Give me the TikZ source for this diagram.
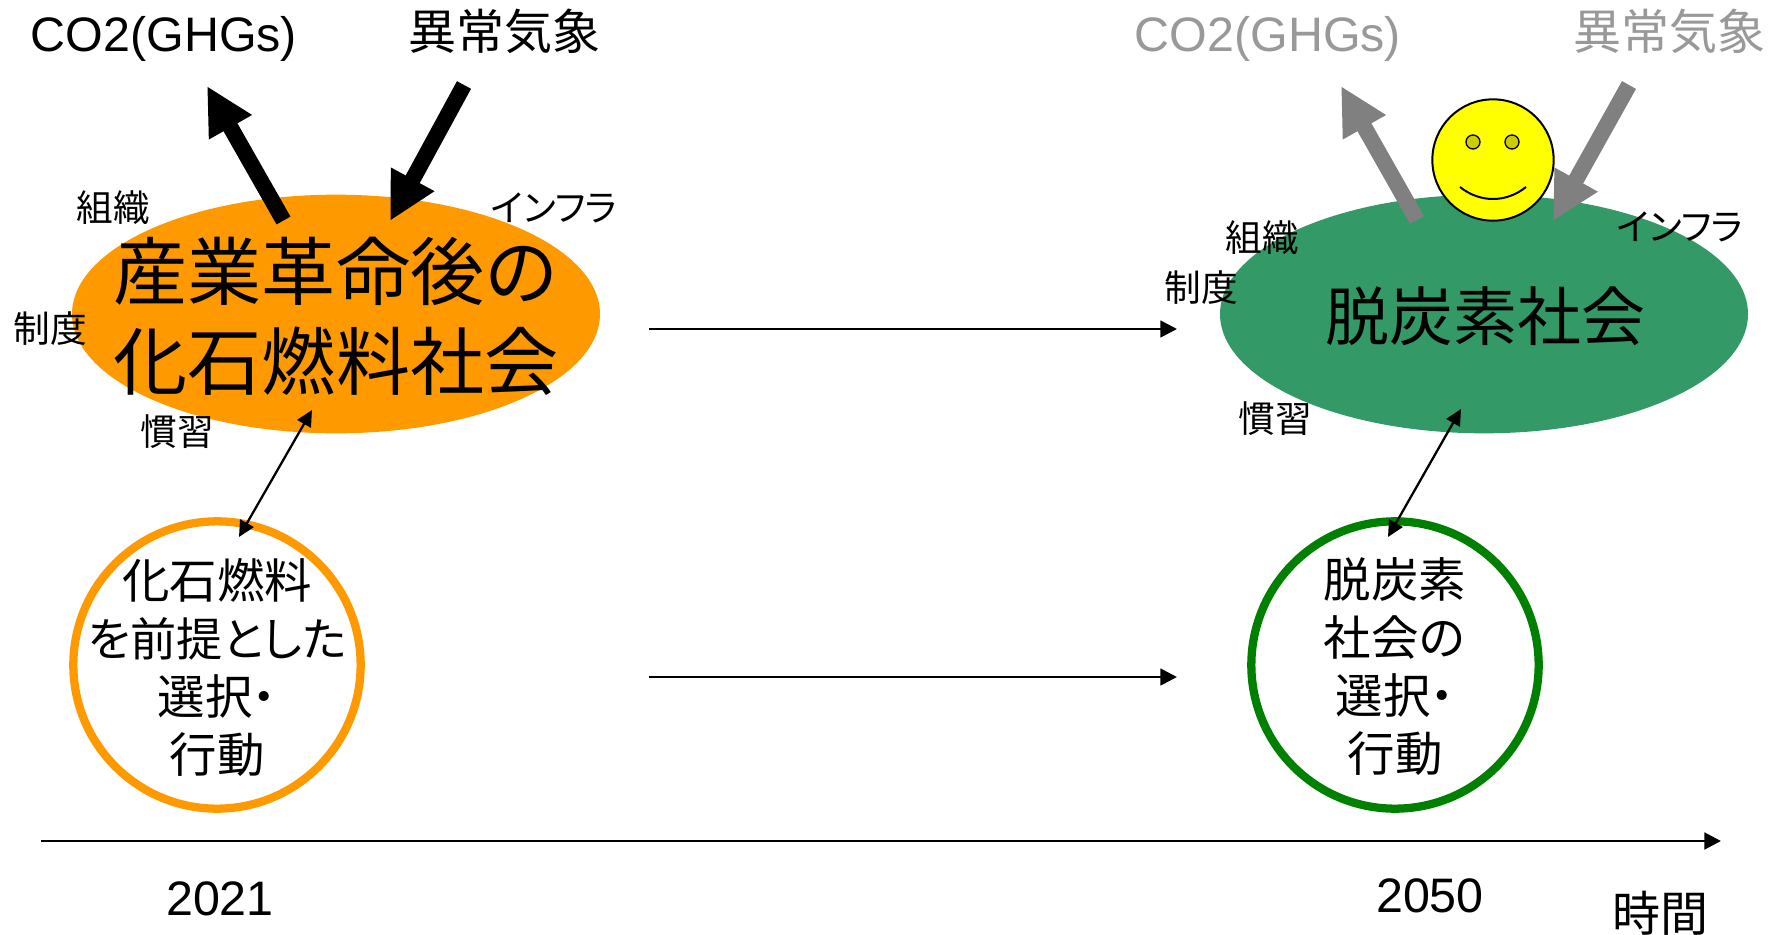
\documentclass[tikz,border=0pt]{standalone}
\usepackage{fontspec}
\setmainfont{Liberation Sans}
\newfontfamily\jp{Noto Sans CJK JP}
\newfontfamily\jpp[RawFeature=+palt]{Noto Sans CJK JP}
\usetikzlibrary{shapes.geometric,arrows.meta}
\definecolor{forange}{HTML}{FF9900}
\definecolor{fgreen}{HTML}{339966}
\definecolor{cgreen}{HTML}{008000}
\definecolor{ggray}{HTML}{808080}
\definecolor{tgray}{HTML}{999999}
\definecolor{eyey}{HTML}{CCCC00}
\definecolor{fyellow}{HTML}{FFFF00}
\tikzset{
  x=0.75pt,y=-0.75pt,
  society/.style={ellipse,inner sep=0pt,minimum width=396pt,minimum height=179pt},
  choice/.style={circle,inner sep=0pt,minimum size=215.5pt,line width=6.2pt,fill=white},
  choicetext/.style={inner sep=0pt,align=center,font=\jp\fontsize{35.6}{43.5}\selectfont},
  small/.style={inner sep=0pt,font=\jp\fontsize{27.5}{27.5}\selectfont,anchor=base,yshift=-10.4pt},
  smallp/.style={inner sep=0pt,font=\jpp\fontsize{27.5}{27.5}\selectfont,anchor=base,yshift=-10.4pt},
  big/.style={inner sep=0pt,font=\jp\fontsize{36}{36}\selectfont,anchor=base,yshift=-13.5pt},
  latin/.style={inner sep=0pt,font=\fontsize{36.3}{36.3}\selectfont,anchor=base},
  block/.style={line width=12pt,-{Triangle[length=35.6pt,width=34.5pt]}},
  thin arrow/.style={line width=2pt,-{Triangle[length=12.5pt,width=12.5pt]}},
  both arrow/.style={line width=1.7pt,{Triangle[length=12pt,width=11.5pt]}-{Triangle[length=12pt,width=11.5pt]}},
}
\begin{document}
\begin{tikzpicture}
\useasboundingbox (0,0) rectangle (1779,935);
% societies
\node[society,fill=forange] (fossil) at (336,314) {};
\node[society,fill=fgreen] (decarb) at (1484,314) {};
\node[inner sep=0pt,align=center,font=\jp\fontsize{55.6}{67.5}\selectfont] (fossiltext) at (336,316) {産業革命後の\\化石燃料社会};
\node[inner sep=0pt,font=\jp\fontsize{48}{48}\selectfont] (decarbtext) at (1485,316) {脱炭素社会};
% choices
\node[choice,draw=forange] (fchoice) at (217,665) {};
\node[choice,draw=cgreen] (dchoice) at (1395,665) {};
\node[choicetext] (fchoicetext) at (217,667) {化石燃料\\{\jpp\fontsize{34.6}{43.5}\selectfont を前提とした}\\選択{\jpp ・}\\行動};
\node[choicetext] (dchoicetext) at (1395,667) {脱炭素\\社会の\\選択{\jpp ・}\\行動};
% labels around societies
\node[small] (l1) at (113,208) {組織};
\node[smallp] (l2) at (554,208) {インフラ};
\node[small] (l3) at (50,329) {制度};
\node[small] (l4) at (177,432) {慣習};
\node[small] (r1) at (1262,238) {組織};
\node[smallp] (r2) at (1680,227) {インフラ};
\node[small] (r3) at (1201,288) {制度};
\node[small] (r4) at (1275,419) {慣習};
% top labels
\node[latin] (co2a) at (164,51) {CO2(GHGs)};
\node[big] (weathera) at (504,31) {異常気象};
\node[latin,text=tgray] (co2b) at (1268,51) {CO2(GHGs)};
\node[big,text=tgray] (weatherb) at (1669,31) {異常気象};
% smiley
\node[circle,draw=black,line width=1.5pt,fill=fyellow,inner sep=0pt,minimum size=91pt] (face) at (1493,160) {};
\node[circle,draw=black,line width=1pt,fill=eyey,inner sep=0pt,minimum size=10.5pt] (eye1) at (1473,142) {};
\node[circle,draw=black,line width=1pt,fill=eyey,inner sep=0pt,minimum size=10.5pt] (eye2) at (1512,142) {};
\coordinate (m1) at (1460,187);
\coordinate (m2) at (1526,187);
\draw[line width=1.5pt] (m1) .. controls (1480,203) and (1506,203) .. (m2);
% block arrows
\coordinate (a1s) at (283.5,220.5); \coordinate (a1e) at (207,86);
\coordinate (a2s) at (464,85);     \coordinate (a2e) at (390,221);
\coordinate (a3s) at (1417,220);   \coordinate (a3e) at (1341,86);
\coordinate (a4s) at (1629,85);    \coordinate (a4e) at (1553,221);
\draw[block,black] (a1s) -- (a1e);
\draw[block,black] (a2s) -- (a2e);
\draw[block,ggray] (a3s) -- (a3e);
\draw[block,ggray] (a4s) -- (a4e);
% connectors
\coordinate (h1s) at (649,329); \coordinate (h1e) at (1177,329);
\coordinate (h2s) at (649,677); \coordinate (h2e) at (1177,677);
\draw[thin arrow] (h1s) -- (h1e);
\draw[thin arrow] (h2s) -- (h2e);
\coordinate (d1a) at (239,537); \coordinate (d1b) at (312,410);
\coordinate (d2a) at (1388,537); \coordinate (d2b) at (1461,409);
\draw[both arrow] (d1a) -- (d1b);
\draw[both arrow] (d2a) -- (d2b);
% time axis
\coordinate (ts) at (41,841); \coordinate (te) at (1721,841);
\draw[thin arrow,line width=2.2pt] (ts) -- (te);
\node[latin] (y1) at (220,915) {2021};
\node[latin] (y2) at (1430,912) {2050};
\node[big] (time) at (1660,913) {時間};
\end{tikzpicture}
\end{document}
